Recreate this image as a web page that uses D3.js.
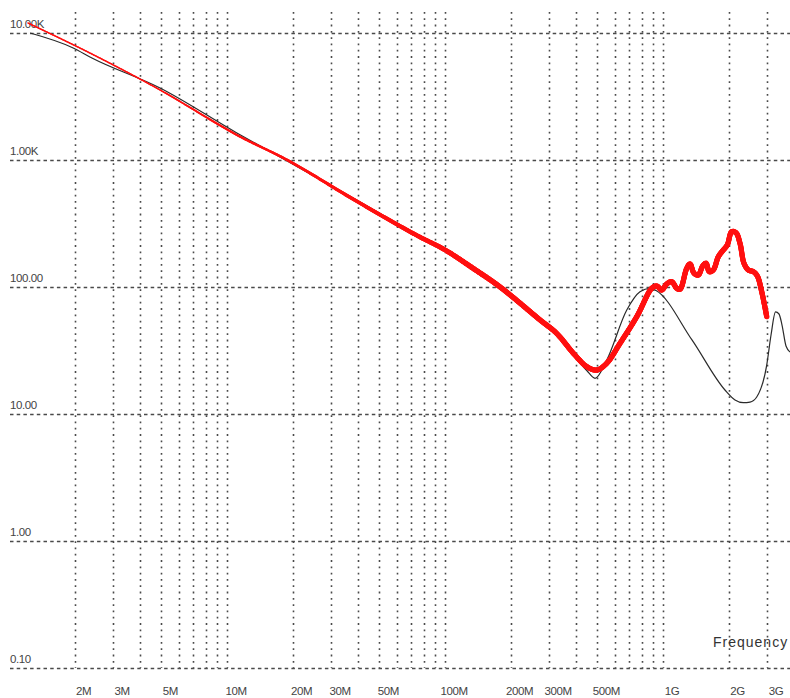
<!DOCTYPE html>
<html>
<head>
<meta charset="utf-8">
<script src="https://cdn.jsdelivr.net/npm/d3@7"></script>
<style>
  html, body { margin: 0; padding: 0; background: #fff; }
  svg { display: block; }
  text { font-family: "Liberation Sans", Arial, sans-serif; fill: #444; }
</style>
</head>
<body>
<svg id="chart" width="790" height="698"></svg>
<script>
// Impedance magnitude (ohm) versus frequency (MHz), measured (red) and simulated (black)
const redFreq = [1.22, 2.35, 4.93, 11.1, 18.9, 37.8, 73.6, 100, 134, 179, 273, 325, 388, 447, 497, 552,
  635, 758, 888, 936, 986, 1040, 1096, 1156, 1197, 1285, 1330, 1388, 1452, 1521, 1575, 1631, 1701,
  1794, 1891, 1972, 2066, 2162, 2255, 2352, 2462, 2596, 2708, 2837, 2991];
const redZ = [12000, 6960, 3560, 1574, 1000, 493, 257, 196, 141, 100, 55.0, 43.2, 30.1, 23.6, 22.2, 25.1,
  36.0, 58.4, 97.7, 101.8, 94.7, 105.6, 110.1, 97.7, 96.0, 140.4, 151.8, 128.2, 124.3, 146.4, 153.7, 132.0, 136.1,
  173.2, 195.6, 214.2, 272.5, 267.6, 220.9, 153.7, 136.1, 132.0, 122.1, 91.8, 58.4];

const blackFreq = [1.25, 1.97, 2.40, 4.93, 11.1, 17.5, 37.8, 73.6, 100, 179, 273, 325, 388, 447, 488, 552,
  682, 784, 872, 929, 1358, 1924, 2139, 2335, 2507, 2691, 2991, 3130, 3282, 3405, 3515, 3666, 3826];
const blackZ = [10000, 7625, 6358, 3690, 1633, 1056, 502, 262, 198, 100, 55.0, 42.7, 29.0, 22.0, 19.1, 26.6,
  65.9, 91.8, 97.7, 93.8, 38.3, 15.45, 12.9, 12.28, 12.4, 13.6, 24.3, 41.9, 63.6, 61.3, 50.2, 34.3, 30.8];

// Axis ticks
const yTickValues = [10000, 1000, 100, 10, 1, 0.1];
const yTickLabels = ["10.00K", "1.00K", "100.00", "10.00", "1.00", "0.10"];
const xTickValues = [2, 3, 5, 10, 20, 30, 50, 100, 200, 300, 500, 1000, 2000, 3000];
const xTickLabels = ["2M", "3M", "5M", "10M", "20M", "30M", "50M", "100M", "200M", "300M", "500M", "1G", "2G", "3G"];
const xGridValues = [2,3,4,5,6,7,8,9, 10,20,30,40,50,60,70,80,90, 100,200,300,400,500,600,700,800,900, 1000,2000,3000];
const xAxisTitle = "Frequency";

const W = 790, H = 698;
const svg = d3.select("#chart");

// Log scales: one decade of frequency = 218 px, one decade of impedance = 127 px
const x = d3.scaleLog().domain([1, 1000]).range([9, 663]);
const y = d3.scaleLog().domain([10000, 0.1]).range([33, 668]);

const gridColor = "#4a4a4a";
const gTop = 12, gLeft = 10, gRight = W;

// vertical dotted grid
svg.append("g").selectAll("line").data(xGridValues).join("line")
  .attr("x1", d => Math.round(x(d)) + 0.5).attr("x2", d => Math.round(x(d)) + 0.5)
  .attr("y1", gTop).attr("y2", y(0.1))
  .attr("stroke", gridColor).attr("stroke-width", 1.6)
  .attr("stroke-dasharray", "1.8,4.5");

// horizontal dashed grid
svg.append("g").selectAll("line").data(yTickValues).join("line")
  .attr("x1", gLeft).attr("x2", gRight)
  .attr("y1", d => Math.round(y(d)) + 0.5).attr("y2", d => Math.round(y(d)) + 0.5)
  .attr("stroke", gridColor).attr("stroke-width", 1.6)
  .attr("stroke-dasharray", "3.5,3.2");

// y labels sit just above their grid line
svg.append("g").selectAll("text").data(yTickValues).join("text")
  .attr("x", 10).attr("y", d => y(d) - 5)
  .attr("font-size", 11.5).attr("letter-spacing", -0.4)
  .text((d, i) => yTickLabels[i]);

// x labels under the plot
svg.append("g").selectAll("text").data(xTickValues).join("text")
  .attr("x", d => x(d) + 9).attr("y", 695)
  .attr("text-anchor", "middle")
  .attr("font-size", 11.5).attr("letter-spacing", -0.4)
  .text((d, i) => xTickLabels[i]);

svg.append("text")
  .attr("x", 713).attr("y", 647)
  .attr("font-size", 14).attr("letter-spacing", 1)
  .style("fill", "#333")
  .text(xAxisTitle);

// simulated trace
const blackPts = blackFreq.map((f, i) => [x(f), y(blackZ[i])]);
svg.append("path")
  .attr("d", d3.line().curve(d3.curveMonotoneX)(blackPts))
  .attr("fill", "none").attr("stroke", "#2a2a2a").attr("stroke-width", 1.2);

// measured trace: the marker density makes it thicker toward high frequency
const redPts = redFreq.map((f, i) => [x(f), y(redZ[i])]);
const redPath = svg.append("path")
  .attr("d", d3.line().curve(d3.curveCatmullRom.alpha(0.5))(redPts))
  .attr("fill", "none").attr("stroke", "none");
const node = redPath.node();
const total = node.getTotalLength();
const widthAt = d3.scaleLinear().domain([150, 300, 470]).range([1.4, 2.6, 5.2]).clamp(true);
const samples = d3.range(0, total, 1).concat([total]).map(l => node.getPointAtLength(l));
const gRed = svg.append("g");
for (let i = 1; i < samples.length; i++) {
  const a = samples[i - 1], b = samples[i];
  gRed.append("line")
    .attr("x1", a.x).attr("y1", a.y).attr("x2", b.x).attr("y2", b.y)
    .attr("stroke", "#ff1010")
    .attr("stroke-width", widthAt((a.x + b.x) / 2))
    .attr("stroke-linecap", "round");
}
</script>
</body>
</html>
